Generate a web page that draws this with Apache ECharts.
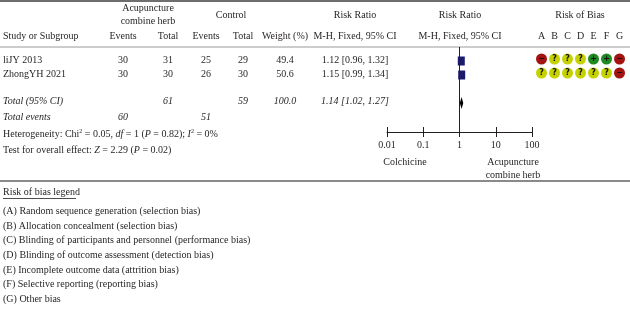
<!DOCTYPE html>
<html>
<head>
<meta charset="utf-8">
<script src="https://cdn.jsdelivr.net/npm/echarts@6/dist/echarts.min.js"></script>
<style>
  html, body { margin: 0; padding: 0; background: #fff; }
  #forest { width: 630px; height: 314px; }
</style>
</head>
<body>
<div id="forest"></div>
<script>
// study data
const studies = ["liJY 2013", "ZhongYH 2021"];
const expEvents = [30, 30];
const expTotal = [31, 30];
const ctlEvents = [25, 26];
const ctlTotal = [29, 30];
const weights = [49.4, 50.6];
const rr = [1.12, 1.15];
const rrLow = [0.96, 0.99];
const rrHigh = [1.32, 1.34];

// pooled result: estimate, low, high
const pooled = [1.14, 1.02, 1.27];
const totalRow = [61, 59, "100.0"];
const totalEvents = [60, 51];
const heterogeneity = [0.05, 1, 0.82, 0]; // chi2, df, P, I2
const overallEffect = [2.29, 0.02]; // Z, P

// axis
const tickValues = [0.01, 0.1, 1, 10, 100];
const tickLabels = ["0.01", "0.1", "1", "10", "100"];

// risk of bias
const biasDomains = ["A", "B", "C", "D", "E", "F", "G"];
const biasJudgements = [
  ["-", "?", "?", "?", "+", "+", "-"],
  ["?", "?", "?", "?", "?", "?", "-"],
];
const biasLegend = [
  "(A) Random sequence generation (selection bias)",
  "(B) Allocation concealment (selection bias)",
  "(C) Blinding of participants and personnel (performance bias)",
  "(D) Blinding of outcome assessment (detection bias)",
  "(E) Incomplete outcome data (attrition bias)",
  "(F) Selective reporting (reporting bias)",
  "(G) Other bias",
];

const chart = echarts.init(document.getElementById("forest"));

const FONT = '"Liberation Serif", "DejaVu Serif", serif';
const INK = "#231f20";
const biasColors = { "-": "#a3130f", "?": "#c6d200", "+": "#1f8a1f" };
const biasSigns = { "-": "\u2212", "?": "?", "+": "+" };

function txt(x, y, s, opts) {
  opts = opts || {};
  return {
    type: "text",
    x: x,
    y: y,
    silent: true,
    style: {
      text: s,
      font: (opts.italic ? "italic " : "") + (opts.size || 10) + "px " + FONT,
      fill: INK,
      align: opts.align || "center",
      verticalAlign: "middle",
      rich: opts.rich,
    },
  };
}
function hline(x1, x2, y, color, w) {
  return {
    type: "line",
    silent: true,
    shape: { x1: x1, y1: y, x2: x2, y2: y },
    style: { stroke: color, lineWidth: w },
  };
}

const richSet = {
  i: { fontStyle: "italic", fontSize: 10, fontFamily: FONT, fill: INK },
  sup: { fontSize: 6, fontFamily: FONT, fill: INK, padding: [0, 0, 6, 0] },
};

const graphics = [];
// rules
graphics.push(hline(0, 630, 1, "#6e6e6e", 2));
graphics.push(hline(0, 630, 47, "#9a9a9a", 1));
graphics.push(hline(0, 630, 181, "#8a8a8a", 2));
graphics.push(hline(3, 76, 198.5, INK, 0.8));

// headers
graphics.push(txt(148, 8, "Acupuncture"));
graphics.push(txt(148, 21, "combine herb"));
graphics.push(txt(231, 15, "Control"));
graphics.push(txt(355, 15, "Risk Ratio"));
graphics.push(txt(460, 15, "Risk Ratio"));
graphics.push(txt(580, 15, "Risk of Bias"));
graphics.push(txt(3, 36, "Study or Subgroup", { align: "left" }));
graphics.push(txt(123, 36, "Events"));
graphics.push(txt(168, 36, "Total"));
graphics.push(txt(206, 36, "Events"));
graphics.push(txt(243, 36, "Total"));
graphics.push(txt(285, 36, "Weight (%)"));
graphics.push(txt(355, 36, "M-H, Fixed, 95% CI"));
graphics.push(txt(460, 36, "M-H, Fixed, 95% CI"));

// study rows
const rowY = [60.5, 74];
studies.forEach((name, i) => {
  const y = rowY[i];
  graphics.push(txt(3, y, name, { align: "left" }));
  graphics.push(txt(123, y, String(expEvents[i])));
  graphics.push(txt(168, y, String(expTotal[i])));
  graphics.push(txt(206, y, String(ctlEvents[i])));
  graphics.push(txt(243, y, String(ctlTotal[i])));
  graphics.push(txt(285, y, weights[i].toFixed(1)));
  graphics.push(txt(355, y, rr[i].toFixed(2) + " [" + rrLow[i].toFixed(2) + ", " + rrHigh[i].toFixed(2) + "]"));
});

// totals
graphics.push(txt(3, 101.5, "Total (95% CI)", { align: "left", italic: true }));
graphics.push(txt(168, 101.5, String(totalRow[0]), { italic: true }));
graphics.push(txt(243, 101.5, String(totalRow[1]), { italic: true }));
graphics.push(txt(285, 101.5, String(totalRow[2]), { italic: true }));
graphics.push(txt(355, 101.5, pooled[0].toFixed(2) + " [" + pooled[1].toFixed(2) + ", " + pooled[2].toFixed(2) + "]", { italic: true }));
graphics.push(txt(3, 117.5, "Total events", { align: "left", italic: true }));
graphics.push(txt(123, 117.5, String(totalEvents[0]), { italic: true }));
graphics.push(txt(206, 117.5, String(totalEvents[1]), { italic: true }));
graphics.push(txt(3, 134, "Heterogeneity: Chi{sup|2} = " + heterogeneity[0].toFixed(2) +
  ", {i|df} = " + heterogeneity[1] + " ({i|P} = " + heterogeneity[2].toFixed(2) +
  "); {i|I}{sup|2} = " + heterogeneity[3] + "%", { align: "left", rich: richSet }));
graphics.push(txt(3, 150, "Test for overall effect: {i|Z} = " + overallEffect[0].toFixed(2) +
  " ({i|P} = " + overallEffect[1].toFixed(2) + ")", { align: "left", rich: richSet }));

// axis side labels
graphics.push(txt(405, 162, "Colchicine"));
graphics.push(txt(513, 162, "Acupuncture"));
graphics.push(txt(513, 175, "combine herb"));

// risk of bias legend
graphics.push(txt(3, 192, "Risk of bias legend", { align: "left" }));
biasLegend.forEach((s, i) => {
  graphics.push(txt(3, 211.5 + i * 14.6, s, { align: "left" }));
});

// series data
const squareData = rr.map((v, i) => [v, i]);
const ciData = rr.map((v, i) => [rrLow[i], rrHigh[i], i]);
const totalRowIndex = 3;

const biasData = [];
biasJudgements.forEach((row, r) => {
  row.forEach((j, c) => {
    biasData.push({
      value: [biasDomains[c], r],
      itemStyle: { color: biasColors[j] },
      label: { formatter: biasSigns[j] },
    });
  });
});

const yRows = { type: "value", inverse: true, min: -1, max: 5.07, show: false };

const options = {
  animation: false,
  grid: [
    { left: 387, width: 145, top: 47, height: 85 },
    { left: 535, width: 91, top: 45, height: 85 },
  ],
  xAxis: [
    {
      type: "log",
      gridIndex: 0,
      logBase: 10,
      min: 0.01,
      max: 100,
      splitNumber: 4,
      position: "bottom",
      axisLine: { show: true, onZero: false, lineStyle: { color: INK, width: 1 } },
      axisTick: { show: true, length: 5, lineStyle: { color: INK } },
      axisLabel: {
        margin: 8,
        color: INK,
        fontFamily: FONT,
        fontSize: 10,
        formatter: (v) => {
          const k = tickValues.findIndex((t) => Math.abs(Math.log10(t) - Math.log10(v)) < 1e-6);
          return k >= 0 ? tickLabels[k] : "";
        },
      },
      splitLine: { show: false },
    },
    {
      type: "log",
      gridIndex: 0,
      logBase: 10,
      min: 0.01,
      max: 100,
      splitNumber: 4,
      position: "bottom",
      axisLine: { show: false, onZero: false },
      axisTick: { show: true, inside: true, length: 5, lineStyle: { color: INK } },
      axisLabel: { show: false },
      splitLine: { show: false },
    },
    {
      type: "category",
      gridIndex: 1,
      data: biasDomains,
      position: "top",
      axisLine: { show: false, onZero: false },
      axisTick: { show: false },
      axisLabel: { margin: 4, color: INK, fontFamily: FONT, fontSize: 10 },
    },
  ],
  yAxis: [
    Object.assign({ gridIndex: 0 }, yRows),
    Object.assign({ gridIndex: 1 }, yRows),
  ],
  series: [
    {
      type: "custom",
      name: "CI",
      xAxisIndex: 0,
      yAxisIndex: 0,
      data: ciData,
      renderItem: (params, api) => {
        const a = api.coord([api.value(0), api.value(2)]);
        const b = api.coord([api.value(1), api.value(2)]);
        return {
          type: "line",
          shape: { x1: a[0], y1: a[1], x2: b[0], y2: b[1] },
          style: { stroke: INK, lineWidth: 1 },
        };
      },
      markLine: {
        silent: true,
        symbol: "none",
        label: { show: false },
        lineStyle: { color: INK, width: 1, type: "solid" },
        data: [{ xAxis: 1 }],
      },
      z: 2,
    },
    {
      type: "scatter",
      name: "Studies",
      xAxisIndex: 0,
      yAxisIndex: 0,
      symbol: "rect",
      symbolSize: [7, 9],
      itemStyle: { color: "#1c1a6a", opacity: 1 },
      data: squareData,
      z: 3,
    },
    {
      type: "custom",
      name: "Pooled",
      xAxisIndex: 0,
      yAxisIndex: 0,
      data: [[pooled[0], pooled[1], pooled[2], totalRowIndex]],
      renderItem: (params, api) => {
        const y = api.value(3);
        const c = api.coord([api.value(0), y]);
        const l = api.coord([api.value(1), y]);
        const r = api.coord([api.value(2), y]);
        return {
          type: "polygon",
          shape: { points: [[l[0], c[1]], [c[0], c[1] - 6], [r[0], c[1]], [c[0], c[1] + 6]] },
          style: { fill: "#000" },
        };
      },
      z: 3,
    },
    {
      type: "scatter",
      name: "Risk of bias",
      xAxisIndex: 2,
      yAxisIndex: 1,
      symbol: "circle",
      symbolSize: 11,
      data: biasData,
      label: {
        show: true,
        position: "inside",
        color: "#111",
        fontSize: 8,
        fontWeight: "bold",
        fontFamily: "DejaVu Sans",
      },
      itemStyle: { opacity: 1 },
    },
  ],
  graphic: graphics,
};

chart.setOption(options);
</script>
</body>
</html>
